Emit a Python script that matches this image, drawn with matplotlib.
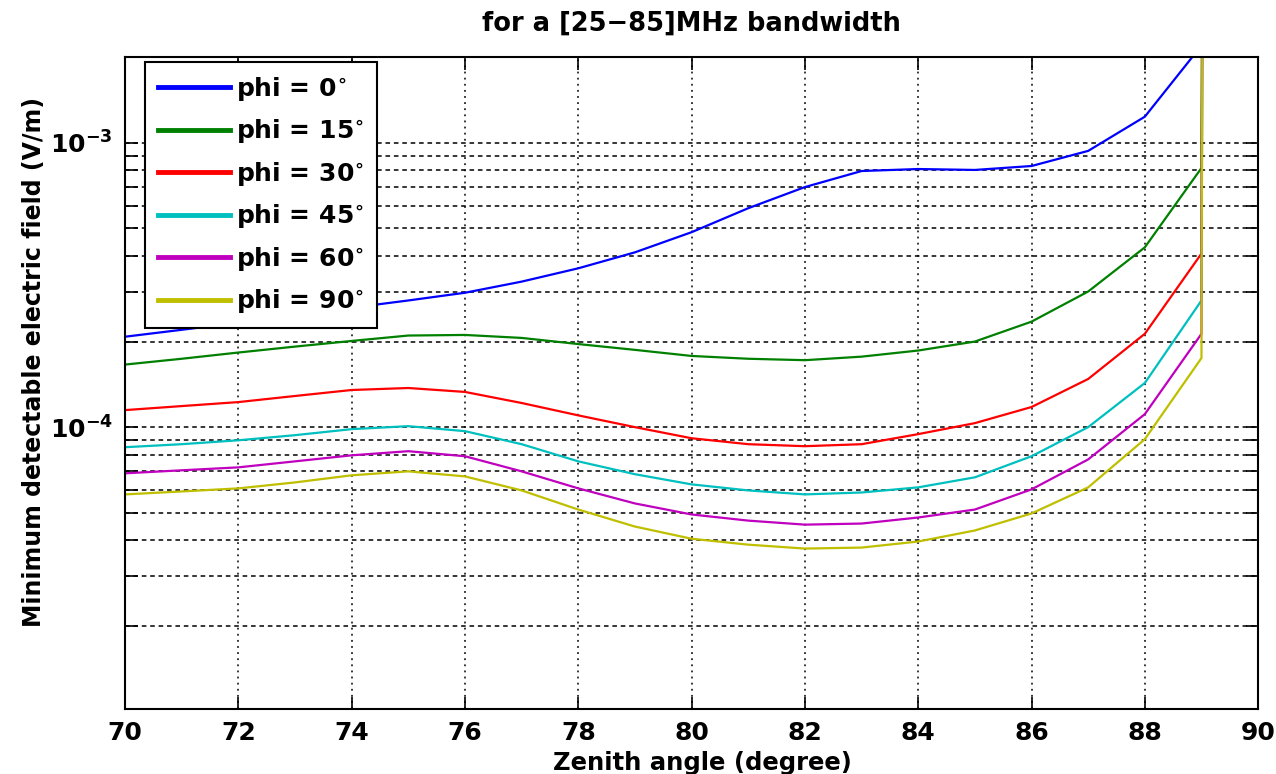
import matplotlib
matplotlib.use('Agg')
import matplotlib.pyplot as plt
from matplotlib.ticker import FixedLocator, FixedFormatter, LogLocator, NullFormatter

plt.rcParams['font.family'] = ['DejaVu Sans']
plt.rcParams['font.weight'] = 'bold'
plt.rcParams['mathtext.fontset'] = 'custom'
plt.rcParams['mathtext.rm'] = 'DejaVu Sans:bold'
plt.rcParams['mathtext.it'] = 'DejaVu Sans:bold'
plt.rcParams['mathtext.bf'] = 'DejaVu Sans:bold'

# zenith angles (deg); last sample is where the field blows up
zenith = [70, 71, 72, 73, 74, 75, 76, 77, 78, 79,
          80, 81, 82, 83, 84, 85, 86, 87, 88, 89, 89.05]

# minimum detectable electric field (V/m)
phi_0 = [2.08e-4, 2.20e-4, 2.33e-4, 2.49e-4, 2.63e-4, 2.79e-4, 2.97e-4, 3.25e-4, 3.62e-4, 4.12e-4,
         4.85e-4, 5.89e-4, 6.99e-4, 7.96e-4, 8.09e-4, 8.03e-4, 8.29e-4, 9.37e-4, 1.236e-3, 2.2e-3, 1.0]
phi_15 = [1.66e-4, 1.74e-4, 1.83e-4, 1.92e-4, 2.01e-4, 2.10e-4, 2.11e-4, 2.06e-4, 1.96e-4, 1.87e-4,
          1.78e-4, 1.74e-4, 1.72e-4, 1.77e-4, 1.86e-4, 2.00e-4, 2.35e-4, 3.00e-4, 4.29e-4, 8.16e-4, 1.0]
phi_30 = [1.148e-4, 1.186e-4, 1.225e-4, 1.287e-4, 1.351e-4, 1.373e-4, 1.33e-4, 1.216e-4, 1.10e-4, 1.0e-4,
          9.14e-5, 8.71e-5, 8.57e-5, 8.71e-5, 9.45e-5, 1.033e-4, 1.177e-4, 1.477e-4, 2.13e-4, 4.08e-4, 1.0]
phi_45 = [8.50e-5, 8.71e-5, 8.99e-5, 9.37e-5, 9.84e-5, 1.008e-4, 9.68e-5, 8.71e-5, 7.58e-5, 6.83e-5,
          6.29e-5, 5.99e-5, 5.80e-5, 5.89e-5, 6.14e-5, 6.66e-5, 7.90e-5, 1.0e-4, 1.43e-4, 2.79e-4, 1.0]
phi_60 = [6.88e-5, 7.05e-5, 7.22e-5, 7.58e-5, 7.96e-5, 8.23e-5, 7.90e-5, 6.99e-5, 6.09e-5, 5.39e-5,
          4.93e-5, 4.69e-5, 4.54e-5, 4.58e-5, 4.81e-5, 5.13e-5, 6.04e-5, 7.70e-5, 1.111e-4, 2.13e-4, 1.0]
phi_90 = [5.80e-5, 5.94e-5, 6.09e-5, 6.39e-5, 6.77e-5, 6.99e-5, 6.71e-5, 5.99e-5, 5.13e-5, 4.47e-5,
          4.05e-5, 3.86e-5, 3.74e-5, 3.77e-5, 3.96e-5, 4.33e-5, 4.97e-5, 6.14e-5, 9.07e-5, 1.75e-4, 1.0]

series = [phi_0, phi_15, phi_30, phi_45, phi_60, phi_90]
labels = [r'phi = 0$^{\circ}$', r'phi = 15$^{\circ}$', r'phi = 30$^{\circ}$',
          r'phi = 45$^{\circ}$', r'phi = 60$^{\circ}$', r'phi = 90$^{\circ}$']
colors = ['#0000ff', '#008000', '#ff0000', '#00bfbf', '#bf00bf', '#bfbf00']

xticks = [70, 72, 74, 76, 78, 80, 82, 84, 86, 88, 90]
yticks = [1e-4, 1e-3]
yticklabels = [r'$10^{-4}$', r'$10^{-3}$']

fig = plt.figure(figsize=(12.76, 7.74), dpi=100)
ax = fig.add_axes([0.098, 0.084, 0.888, 0.842])

for vals, lab, col in zip(series, labels, colors):
    ax.plot(zenith, vals, color=col, lw=1.6, label=lab)

ax.set_yscale('log')
ax.set_xlim(70, 90)
ax.set_ylim(1.02e-5, 2e-3)
ax.set_xticks(xticks)
ax.yaxis.set_major_locator(FixedLocator(yticks))
ax.yaxis.set_major_formatter(FixedFormatter(yticklabels))
ax.yaxis.set_minor_locator(LogLocator(base=10, subs=range(2, 10)))
ax.yaxis.set_minor_formatter(NullFormatter())

ax.tick_params(axis='both', which='both', direction='in', length=9, width=1.2,
               top=True, right=True, labelsize=18, pad=9)
for sp in ax.spines.values():
    sp.set_linewidth(1.5)

ax.xaxis.grid(True, which='major', color='black', linestyle=(0, (1.2, 2.8)), lw=1.1)
ax.yaxis.grid(True, which='both', color='black', linestyle=(0, (3, 2.5)), lw=1.1)

ax.set_title('for a [25\u221285]MHz bandwidth', fontsize=18.5, fontweight='bold', pad=19)
ax.set_xlabel('Zenith angle (degree)', fontsize=17.5, fontweight='bold')
ax.set_ylabel('Minimum detectable electric field (V/m)', fontsize=17, fontweight='bold')
ax.xaxis.set_label_coords(0.51, -0.064)
ax.yaxis.set_label_coords(-0.07, 0.532)

leg = ax.legend(loc='upper left', bbox_to_anchor=(0.0177, 0.992), borderaxespad=0,
                fontsize=18, fancybox=False, edgecolor='black', framealpha=1,
                handlelength=2.9, labelspacing=0.58, borderpad=0.5, handletextpad=0.25)
leg.get_frame().set_linewidth(1.5)
for ln in leg.get_lines():
    ln.set_linewidth(3.5)

fig.savefig('out.png', dpi=100)
